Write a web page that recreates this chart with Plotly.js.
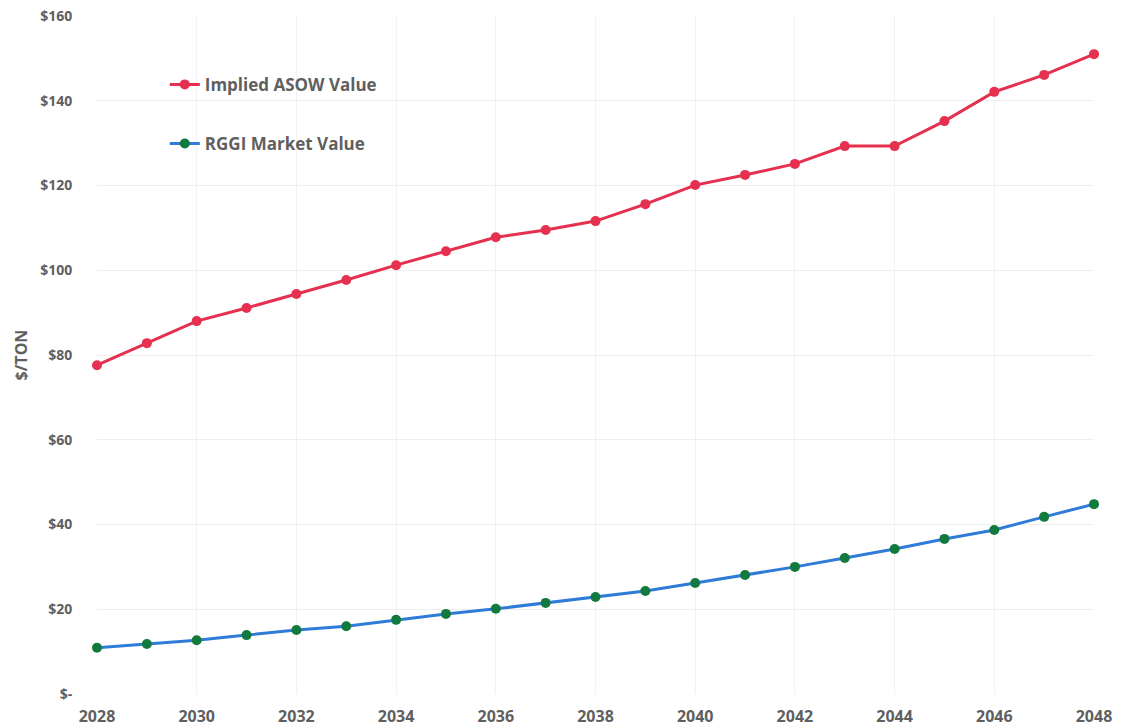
<!DOCTYPE html>
<html>
<head>
<meta charset="utf-8">
<script src="https://cdn.plot.ly/plotly-3.0.1.min.js"></script>
<style>html,body{margin:0;padding:0;background:#fff;}#chart{width:1126px;height:727px;}</style>
</head>
<body>
<div id="chart"></div>
<script>
const years = [2028,2029,2030,2031,2032,2033,2034,2035,2036,2037,2038,2039,2040,2041,2042,2043,2044,2045,2046,2047,2048];
const asowValues = [77.6,82.8,88.0,91.1,94.4,97.7,101.2,104.5,107.8,109.5,111.6,115.6,120.1,122.5,125.1,129.3,129.3,135.2,142.1,146.1,151.0];
const rggiValues = [10.9,11.8,12.7,13.9,15.1,16.0,17.5,18.9,20.1,21.5,22.9,24.3,26.2,28.1,30.0,32.1,34.2,36.6,38.7,41.8,44.8];
const seriesNames = ['Implied ASOW Value','RGGI Market Value'];
const yTickVals = [0,20,40,60,80,100,120,140,160];
const yTickText = ['$-','$20','$40','$60','$80','$100','$120','$140','$160'];
const xTickVals = [2028,2030,2032,2034,2036,2038,2040,2042,2044,2046,2048];

const fam = 'Open Sans, Liberation Sans, sans-serif';
const yFont = {family:fam, size:14, color:'#5f5f5f', weight:'bold'};
const xFont = {family:fam, size:16, color:'#5f5f5f', weight:'bold'};

const traces = [
  {x:years, y:asowValues, name:seriesNames[0], type:'scatter', mode:'lines+markers', legendgroup:'a',
   line:{color:'#e5304f', width:3}, marker:{color:'#e5304f', size:10}, cliponaxis:false},
  {x:years, y:rggiValues, name:seriesNames[1], type:'scatter', mode:'lines+markers', legendgroup:'b',
   line:{color:'#2f7bd8', width:3}, marker:{color:'#137a3f', size:10}, cliponaxis:false}
];

const layout = {
  width:1126, height:727,
  margin:{l:97, r:32, t:16, b:33},
  paper_bgcolor:'#fff', plot_bgcolor:'#fff',
  font:yFont,
  showlegend:true,
  legend:{x:0.068, y:0.925, xanchor:'left', yanchor:'top', bgcolor:'rgba(0,0,0,0)',
          font:{family:fam, size:17, color:'#5f5f5f', weight:'bold'},
          tracegroupgap:34, traceorder:'grouped', itemwidth:30},
  xaxis:{range:[2028,2048], tickvals:xTickVals, ticktext:xTickVals.map(String),
         showgrid:true, gridcolor:'#f2f2f2', gridwidth:1, zeroline:false, showline:false,
         ticks:'outside', ticklen:8, tickcolor:'rgba(0,0,0,0)', tickfont:xFont, automargin:false},
  yaxis:{range:[0,160], tickvals:yTickVals, ticktext:yTickText,
         showgrid:true, gridcolor:'#efefef', gridwidth:1, zeroline:false, showline:false,
         ticks:'outside', ticklen:21, tickcolor:'rgba(0,0,0,0)', tickfont:yFont, automargin:false,
         title:{text:'$/TON', font:{family:fam, size:16, color:'#5f5f5f', weight:'bold'}, standoff:8}}
};

Plotly.newPlot('chart', traces, layout, {displayModeBar:false});
</script>
</body>
</html>
